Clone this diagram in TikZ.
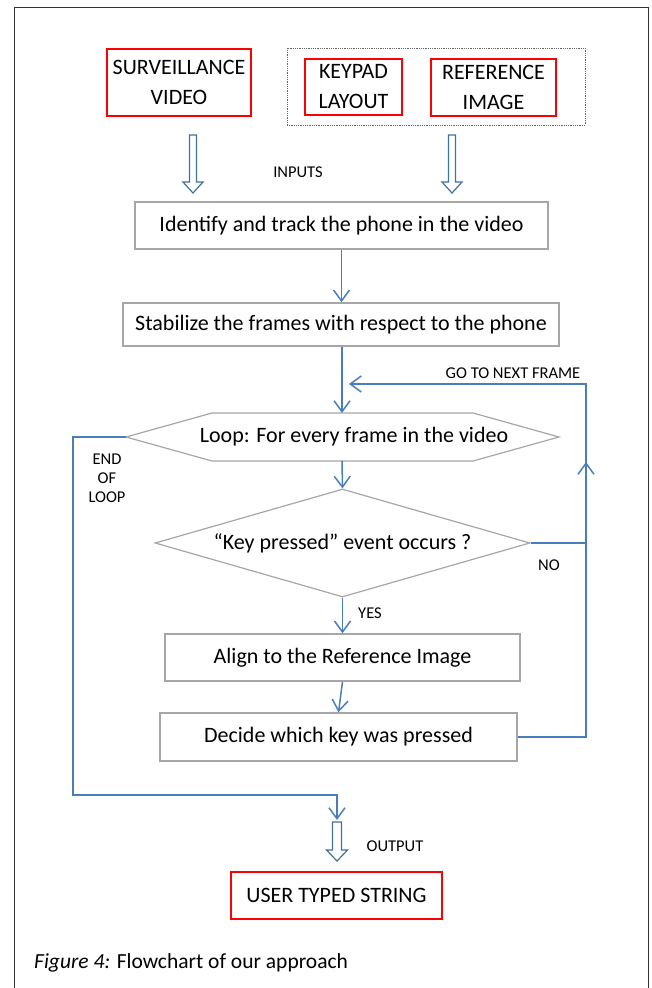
\documentclass[tikz,border=0pt]{standalone}
\usepackage{fontspec}
\setmainfont{Carlito}
\usetikzlibrary{arrows.meta,shapes.geometric}

\definecolor{flowblue}{HTML}{4A7EBB}
\definecolor{boxgray}{HTML}{A6A6A6}
\definecolor{arrowedge}{HTML}{41719C}

\newcommand{\bigtxt}{\fontsize{22}{30}\selectfont}
\newcommand{\smalltxt}{\fontsize{16.5}{19}\selectfont}

\begin{document}
\begin{tikzpicture}[x=1pt,y=-1pt,
  redbox/.style={draw=red,line width=1.3pt,align=center,font=\bigtxt,inner sep=0pt},
  procbox/.style={draw=boxgray,line width=1.5pt,font=\bigtxt,inner sep=0pt},
  shapeline/.style={draw=boxgray,line width=1.2pt},
  flowline/.style={draw=flowblue,line width=1.5pt,-{Straight Barb[length=11pt,width=16pt]}},
  tag/.style={font=\smalltxt,inner sep=0pt},
  hollow/.style={draw=arrowedge,line width=1.2pt,fill=white}]
\useasboundingbox (0,0) rectangle (652,988);
% page frame
\draw[line width=1pt,black!80] (14,988) -- (14,7) -- (648,7) -- (648,988);

% inputs
\node[redbox,minimum width=144,minimum height=67] (survvideo) at (179,82.5) {SURVEILLANCE\\VIDEO};
\node[draw=black!60,densely dotted,line width=0.8pt,minimum width=298,minimum height=77,inner sep=0pt] (refgroup) at (436,86.5) {};
\node[redbox,minimum width=97,minimum height=56] (keypad) at (353.5,87) {KEYPAD\\LAYOUT};
\node[redbox,minimum width=125,minimum height=57] (refimage) at (493.5,87.5) {REFERENCE\\IMAGE};
\foreach \x in {193,452}
  \draw[hollow] (\x-3.5,135) -- (\x+3.5,135) -- (\x+3.5,182) -- (\x+10,182) -- (\x,193) -- (\x-10,182) -- (\x-3.5,182) -- cycle;
\node[tag] (inputs) at (298,172) {INPUTS};

% steps
\node[procbox,minimum width=413,minimum height=47] (identify) at (341.5,225.5) {Identify and track the phone in the video};
\node[procbox,minimum width=436,minimum height=43] (stabilize) at (341,324.5) {Stabilize the frames with respect to the phone};
\node[font=\bigtxt,inner sep=0pt] (loop) at (354,437) {Loop: For every frame in the video};
\draw[shapeline] (126,437) -- (212,413) -- (473,413) -- (559,437) -- (473,461) -- (212,461) -- cycle;
\coordinate (loopN) at (342,413);
\coordinate (loopS) at (342,461);
\coordinate (loopW) at (126,437);
\node[diamond,shapeline,aspect=3.47,minimum width=375,minimum height=108,inner sep=0pt,font=\bigtxt] (keycheck) at (342.5,543) {“Key pressed” event occurs ?};
\node[procbox,minimum width=355,minimum height=47] (align) at (342.5,657.5) {Align to the Reference Image};
\node[procbox,minimum width=357,minimum height=48] (decide) at (338.5,737) {Decide which key was pressed};

% output
\draw[hollow] (332.5,822) -- (341.5,822) -- (341.5,850) -- (347.5,850) -- (337,861) -- (326.5,850) -- (332.5,850) -- cycle;
\node[tag] (output) at (395,846) {OUTPUT};
\node[redbox,minimum width=211,minimum height=47] (typed) at (336.5,895.5) {USER TYPED STRING};

% connectors
\coordinate (backE) at (586,384);
\coordinate (nextframe) at (349,384);
\coordinate (noturn) at (586,462);
\coordinate (outtip) at (337,820);
\draw[flowline] (identify.south) -- (identify.south |- stabilize.north);
\draw[flowline] (stabilize.south -| loopN) -- (loopN);
\draw[flowline] (loopS) -- (keycheck.north);
\draw[flowline] (keycheck.south) -- (align.north);
\draw[flowline] (align.south) -- (decide.north);
\draw[flowline] (decide.east) -| (backE) -- (nextframe);
\draw[flowline] (keycheck.east) -| (noturn);
\draw[flowline] (loopW) -- (73,437) -- (73,795) -- (337,795) -- (outtip);

% labels
\node[tag] (nextlbl) at (513,373) {GO TO NEXT FRAME};
\node[tag,align=center] (endloop) at (107,478) {END\\OF\\LOOP};
\node[tag] (nolbl) at (549,565) {NO};
\node[tag] (yeslbl) at (370,613) {YES};
\node[anchor=west,font=\fontsize{21.5}{24}\selectfont,inner sep=0pt] (caption) at (34,963) {\textit{Figure 4:} Flowchart of our approach};
\end{tikzpicture}
\end{document}
